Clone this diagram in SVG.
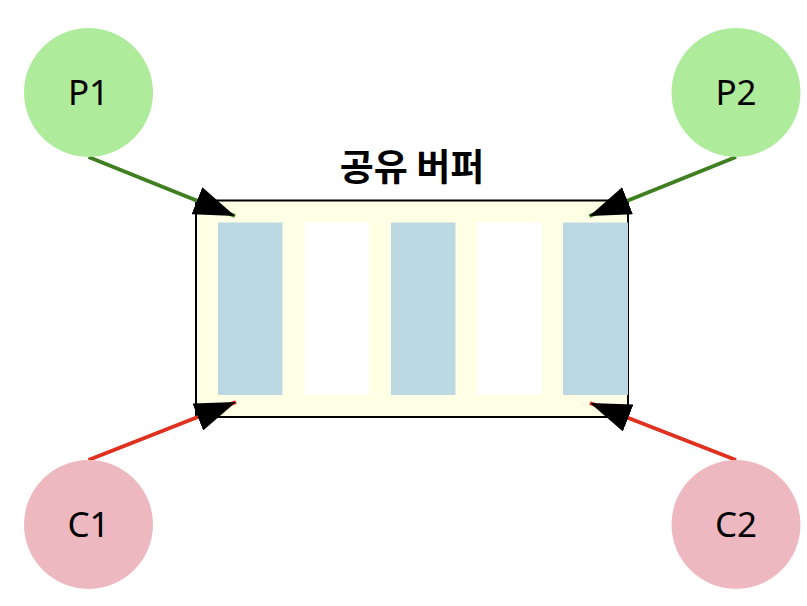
<svg xmlns="http://www.w3.org/2000/svg" width="807" height="606" viewBox="0 0 807 606">
<style>
.lbl{font-family:"Noto Sans","Open Sans",sans-serif;font-size:35px;fill:#000;text-anchor:middle}
.title{font-family:"Noto Sans CJK KR","Noto Sans",sans-serif;font-size:37px;font-weight:bold;fill:#000;text-anchor:middle}
.prod{fill:#aeeb9b}
.cons{fill:#eeb8c0}
.slotF{fill:#bcd9e3}
.slotE{fill:#ffffff}
.pl{stroke:#3f7f1f;stroke-width:4;fill:none}
.cl{stroke:#e0301e;stroke-width:4;fill:none}
</style>
<defs>
<marker id="ah" viewBox="0 0 41 29" refX="41" refY="14.5" markerWidth="41" markerHeight="29" orient="auto" markerUnits="userSpaceOnUse">
<path d="M0,0 L41,14.5 L0,29 z" fill="#000"/>
</marker>
</defs>
<rect width="807" height="606" fill="#fff"/>
<g id="buffer">
<rect x="196" y="200.5" width="432" height="216.5" fill="#ffffe6" stroke="#000" stroke-width="2"/>
<rect class="slotF" x="218" y="222.5" width="64.5" height="172.5"/>
<rect class="slotE" x="304.5" y="222.5" width="64.5" height="172.5"/>
<rect class="slotF" x="391" y="222.5" width="64.5" height="172.5"/>
<rect class="slotE" x="477" y="222.5" width="64.5" height="172.5"/>
<rect class="slotF" x="563" y="222.5" width="65" height="172.5"/>
<text class="title" x="412" y="181">공유 버퍼</text>
</g>
<g id="connectors">
<line class="pl" x1="88.5" y1="157" x2="235" y2="216" marker-end="url(#ah)"/>
<line class="pl" x1="736" y1="157" x2="589.5" y2="216" marker-end="url(#ah)"/>
<line class="cl" x1="88.5" y1="460" x2="236" y2="402" marker-end="url(#ah)"/>
<line class="cl" x1="736" y1="460" x2="590" y2="403" marker-end="url(#ah)"/>
</g>
<g id="P1"><circle class="prod" cx="88.5" cy="92.5" r="64.5"/><text class="lbl" x="88.5" y="105">P1</text></g>
<g id="P2"><circle class="prod" cx="736" cy="92.5" r="64.5"/><text class="lbl" x="736" y="105">P2</text></g>
<g id="C1"><circle class="cons" cx="88.5" cy="524.5" r="64.5"/><text class="lbl" x="88.5" y="537">C1</text></g>
<g id="C2"><circle class="cons" cx="736" cy="524.5" r="64.5"/><text class="lbl" x="736" y="537">C2</text></g>
</svg>
